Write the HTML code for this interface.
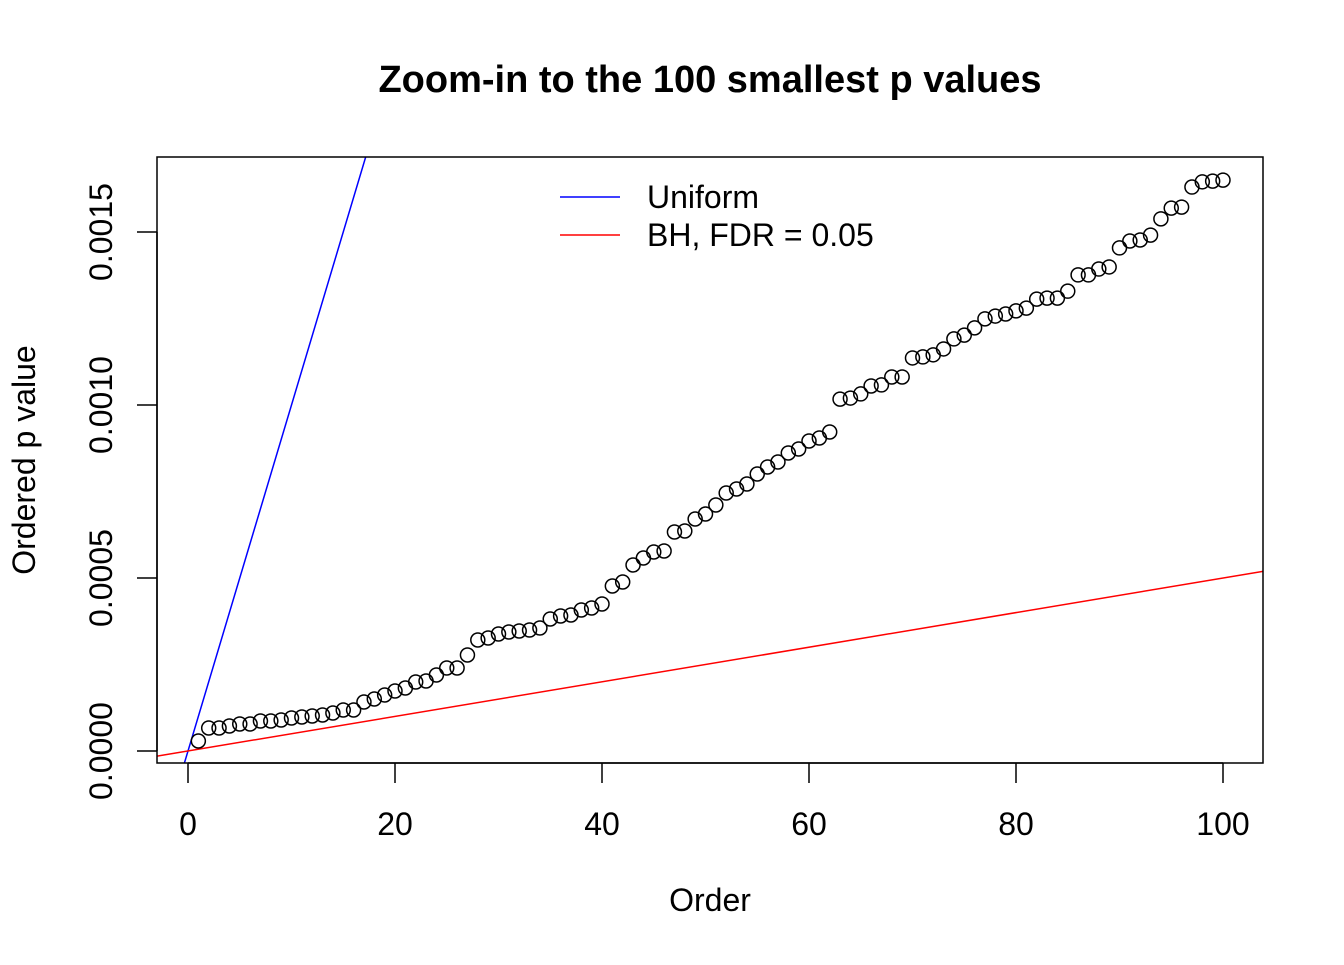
<!DOCTYPE html>
<html><head><meta charset="utf-8"><style>
html,body{margin:0;padding:0;background:#fff;}
svg text{font-family:"Liberation Sans",Arial,sans-serif;fill:#000;}
</style></head><body>
<svg id="chart" width="1344" height="960" viewBox="0 0 1344 960">
<text x="710" y="92" text-anchor="middle" font-size="38" font-weight="bold">Zoom-in to the 100 smallest p values</text>
<text x="710" y="911" text-anchor="middle" font-size="32">Order</text>
<text transform="translate(35,460) rotate(-90)" text-anchor="middle" font-size="32">Ordered p value</text>
<g id="xaxis"></g>
<g id="yaxis"></g>
<g id="lines"></g>
<g id="points"></g>
<rect x="157" y="157" width="1106" height="606" fill="none" stroke="#000" stroke-width="1.5"/>
<g>
<line x1="560" y1="197" x2="620" y2="197" stroke="#0000ff" stroke-width="1.5"/>
<text x="647" y="208" font-size="32">Uniform</text>
<line x1="560" y1="235" x2="620" y2="235" stroke="#ff0000" stroke-width="1.5"/>
<text x="647" y="246" font-size="32">BH, FDR = 0.05</text>
</g>
</svg>
<script>
const xTicks = [0, 20, 40, 60, 80, 100];
const yTicks = [0, 0.0005, 0.0010, 0.0015];
const yTickLabels = ["0.0000", "0.0005", "0.0010", "0.0015"];
const fdr = 0.05;
const nTests = 10000;
const pValues = [0.289,0.665,0.665,0.723,0.780,0.780,0.867,0.867,0.896,0.954,0.983,1.012,1.040,1.098,1.185,1.185,1.416,1.503,1.618,1.734,1.821,1.994,2.023,2.197,2.399,2.399,2.775,3.208,3.266,3.382,3.439,3.468,3.497,3.555,3.815,3.902,3.931,4.075,4.133,4.249,4.769,4.884,5.376,5.578,5.751,5.780,6.329,6.358,6.705,6.850,7.110,7.457,7.572,7.717,8.006,8.208,8.353,8.613,8.728,8.960,9.046,9.220,10.17,10.20,10.32,10.55,10.58,10.81,10.81,11.36,11.39,11.45,11.62,11.91,12.02,12.23,12.49,12.57,12.63,12.72,12.80,13.06,13.09,13.09,13.29,13.76,13.76,13.93,13.99,14.54,14.74,14.77,14.91,15.38,15.69,15.72,16.30,16.45,16.47,16.50].map(v => v * 1e-4);

const NS = "http://www.w3.org/2000/svg";
const X0 = 157, X1 = 1263, Y0 = 157, Y1 = 763;
const xs = v => 188 + v * (1223 - 188) / 100;
const ys = v => 751 - v * (751 - 232) / 0.0015;
function mk(tag, attrs, parent) {
  const e = document.createElementNS(NS, tag);
  for (const k in attrs) e.setAttribute(k, attrs[k]);
  parent.appendChild(e);
  return e;
}
const xa = document.getElementById("xaxis");
mk("line", {x1: xs(xTicks[0]), y1: 763, x2: xs(xTicks[xTicks.length-1]), y2: 763, stroke: "#000", "stroke-width": 1.5}, xa);
xTicks.forEach(t => {
  const l = mk("line", {x1: xs(t), y1: 763, x2: xs(t), y2: 783, stroke: "#000", "stroke-width": 1.5}, xa);
  
  
  const tx = mk("text", {x: xs(t), y: 835, "text-anchor": "middle", "font-size": 32}, xa);
  tx.textContent = t;
  
  
});
const ya = document.getElementById("yaxis");
mk("line", {x1: 157, y1: ys(yTicks[0]), x2: 157, y2: ys(yTicks[yTicks.length-1]), stroke: "#000", "stroke-width": 1.5}, ya);
yTicks.forEach((t, i) => {
  const l = mk("line", {x1: 137, y1: ys(t), x2: 157, y2: ys(t), stroke: "#000", "stroke-width": 1.5}, ya);
  
  
  const tx = mk("text", {transform: `translate(112,${ys(t)}) rotate(-90)`, "text-anchor": "middle", "font-size": 32}, ya);
  tx.textContent = yTickLabels[i];
  
  
});
const lg = document.getElementById("lines");
const clip = mk("clipPath", {id: "plotclip"}, lg);
mk("rect", {x: X0, y: Y0, width: X1 - X0, height: Y1 - Y0}, clip);
const xmin = (X0 - 188) * 100 / (1223 - 188), xmax = (X1 - 188) * 100 / (1223 - 188);
const u = mk("line", {x1: xs(xmin), y1: ys(xmin / nTests), x2: xs(xmax), y2: ys(xmax / nTests), stroke: "#0000ff", "stroke-width": 1.5, "clip-path": "url(#plotclip)"}, lg);


const b = mk("line", {x1: xs(xmin), y1: ys(fdr * xmin / nTests), x2: xs(xmax), y2: ys(fdr * xmax / nTests), stroke: "#ff0000", "stroke-width": 1.5, "clip-path": "url(#plotclip)"}, lg);


const pg = document.getElementById("points");
pValues.forEach((p, i) => {
  const c = mk("circle", {cx: xs(i + 1), cy: ys(p), r: 7, fill: "none", stroke: "#000", "stroke-width": 1.5}, pg);
  
  
});
</script>
</body></html>
